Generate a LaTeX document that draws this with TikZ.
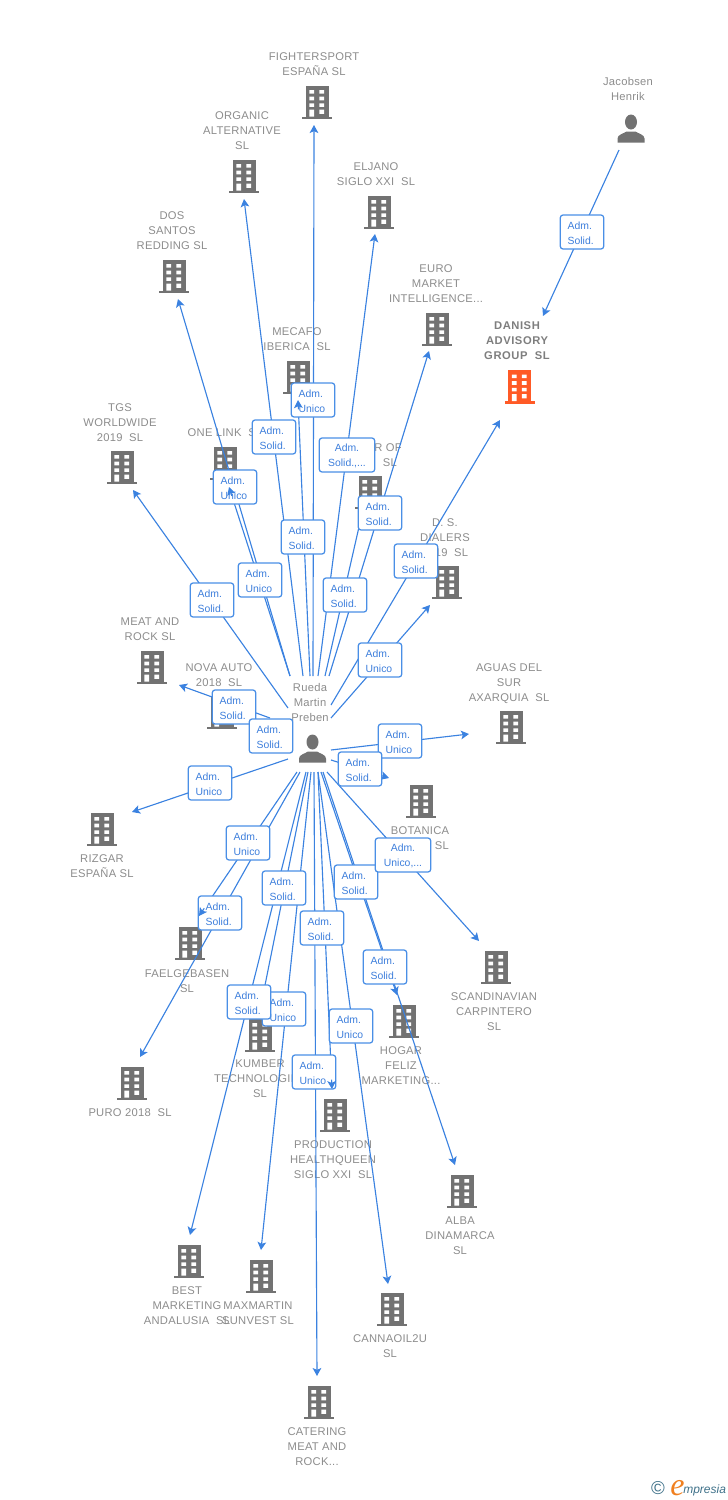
\documentclass[tikz,border=0pt]{standalone}
\usepackage{fontspec}
\setmainfont{Liberation Sans}
\newfontfamily\grfont[LetterSpace=2.4]{Liberation Sans}
\newfontfamily\grbfont[LetterSpace=5,BoldFont={Liberation Sans Bold}]{Liberation Sans}
\newfontfamily\bxfont{Liberation Sans}
\newfontfamily\logofont{Liberation Serif}
\usetikzlibrary{arrows.meta,calc}
\definecolor{linkblue}{HTML}{3B82E0}
\definecolor{boxblue}{HTML}{4A8FE6}
\definecolor{boxtext}{HTML}{3E7FDC}
\definecolor{gtxt}{HTML}{8C8C8C}
\definecolor{iconc}{HTML}{727272}
\definecolor{orangec}{HTML}{FF5A26}
\definecolor{logoteal}{HTML}{3F7189}
\definecolor{logoor}{HTML}{F08020}
\tikzset{
  gr/.style={font=\grfont\fontsize{8.4}{11.25}\selectfont,text=gtxt,align=center,inner sep=0pt,yshift=-0.75pt},
  grb/.style={font=\grbfont\bfseries\fontsize{8.4}{11.25}\selectfont,text=gtxt!90!black,align=center,inner sep=0pt,yshift=-0.75pt},
  conn/.style={draw=linkblue,line width=0.85pt,-{Stealth[length=6pt,width=6.5pt,inset=1.4pt]}},
  lbl/.style={draw=boxblue,line width=0.95pt,fill=white,rounded corners=2pt,
     minimum width=32.5pt,minimum height=25.5pt,inner sep=0pt,text width=21.5pt,align=left,
     text=boxtext,font=\bxfont\fontsize{7.8}{11.25}\selectfont,
     execute at begin node={\rule{0pt}{7pt}}},
  lblw/.style={lbl,minimum width=41.5pt,text width=36pt,align=center},
  bldg/.style={inner sep=0pt,outer sep=0pt,minimum width=24pt,minimum height=26.25pt,
    path picture={\begin{scope}[shift={(path picture bounding box.center)}]
      \fill[#1] (-11.5,-16.5) rectangle (11.5,14.5);
      \fill[#1] (-15,14.5) rectangle (15,17);
      \fill[white] (-7.6,-12) rectangle (-3,-8.4) (2.4,-12) rectangle (7,-8.4)
                   (-7.6,-5.3) rectangle (-3,-1.7) (2.4,-5.3) rectangle (7,-1.7)
                   (-7.6,1.3) rectangle (-3,4.9) (2.4,1.3) rectangle (7,4.9)
                   (-7.6,7.7) rectangle (-3,14.5) (2.4,7.7) rectangle (7,11.8);
    \end{scope}}},
  pers/.style={inner sep=0pt,outer sep=0pt,minimum width=21pt,minimum height=24pt,
    path picture={\begin{scope}[shift={(path picture bounding box.center)}]
      \fill[iconc] (0,-7) ellipse (6 and 7.5);
      \fill[iconc] (-13.5,13.5) -- (-13.5,9.5) .. controls (-13.5,5.5) and (-7,4.5) .. (-4.5,2.5)
         -- (4.5,2.5) .. controls (7,4.5) and (13.5,5.5) .. (13.5,9.5) -- (13.5,13.5) -- cycle;
    \end{scope}}}
}
% line from a named start coordinate to a named tip coordinate
\newcommand\linkto[5]{\coordinate (s#1) at (#2,#3); \coordinate (t#1) at (#4,#5); \draw[conn] (s#1) -- (t#1);}
\newcommand\overtip[1]{\draw[conn] ($(t#1)!7pt!(s#1)$) -- (t#1);}
\begin{document}
\begin{tikzpicture}[x=0.75pt,y=-0.75pt]
\useasboundingbox (0,0) rectangle (728,1500);
% buildings
\foreach \n/\x/\y in {bfight/317/102,borg/244/176,belj/379/212,bdos/174/276,beuro/437/329,bmec/298/377,
  btgs/122/467,bone/225/463,bown/370/492,bds/447/582,bmeat/152/667,bnova/222/712,bagu/511/727,bbot/421/801,
  briz/102/829,bfae/190/943,bkum/260/1035,bpur/132/1083,bhog/404/1021,bprod/335/1115,bsca/496/967,
  balb/462/1191,bbest/189/1261,bmax/261/1276,bcan/392/1309,bcat/319/1402}
  {\node[bldg=iconc] (\n) at (\x,\y) {};}
\node[bldg=orangec] (bdan) at (519.5,386.5) {};
\node[pers] (hub) at (312.5,749) {};
\node[pers] (pjac) at (631,129) {};
% names
\node[gr] (nfight) at (314,63.5) {FIGHTERSPORT\\ESPAÑA SL};
\node[gr] (norg) at (242,130) {ORGANIC\\ALTERNATIVE\\SL};
\node[gr] (nelj) at (376,173.5) {ELJANO\\SIGLO XXI~~SL};
\node[gr] (ndos) at (172,230) {DOS\\SANTOS\\REDDING SL};
\node[gr] (neuro) at (436,283) {EURO\\MARKET\\INTELLIGENCE...};
\node[grb] (ndan) at (517,340) {DANISH\\ADVISORY\\GROUP~~SL};
\node[gr] (njac) at (628,87.5) {Jacobsen\\Henrik};
\node[gr] (nmec) at (297,338.5) {MECAFO\\IBERICA~~SL};
\node[gr] (ntgs) at (120,422) {TGS\\WORLDWIDE\\2019~~SL};
\node[gr] (none) at (225,432) {ONE LINK~~SL};
\node[gr,anchor=east] (nown1) at (402,447) {R OF};
\node[gr,anchor=east] (nown2) at (397,462) {SL};
\node[gr] (nds) at (445,537) {D. S.\\DIALERS\\2019~~SL};
\node[gr] (nmeat) at (150,628.5) {MEAT AND\\ROCK SL};
\node[gr] (nnova) at (219,674.5) {NOVA AUTO\\2018~~SL};
\node[gr] (nagu) at (509,682.5) {AGUAS DEL\\SUR\\AXARQUIA~~SL};
\node[gr] (nbot) at (420,830) {BOTANICA};
\node[gr,anchor=east] (nbot2) at (449,845) {SL};
\node[gr] (nriz) at (102,865.5) {RIZGAR\\ESPAÑA SL};
\node[gr] (nfae) at (187,980.5) {FAELGEBASEN\\SL};
\node[gr] (nsca) at (494,1011) {SCANDINAVIAN\\CARPINTERO\\SL};
\node[gr] (nkum) at (260,1078) {KUMBER\\TECHNOLOGIES\\SL};
\node[gr] (nhog) at (401,1065) {HOGAR\\FELIZ\\MARKETING...};
\node[gr] (npur) at (130,1112) {PURO 2018~~SL};
\node[gr] (nprod) at (333,1159) {PRODUCTION\\HEALTHQUEEN\\SIGLO XXI~~SL};
\node[gr] (nalb) at (460,1235) {ALBA\\DINAMARCA\\SL};
\node[gr] (nbest) at (187,1305) {BEST\\MARKETING\\ANDALUSIA~~SL};
\node[gr] (nmax) at (258,1312.5) {MAXMARTIN\\SUNVEST SL};
\node[gr] (ncan) at (390,1345.5) {CANNAOIL2U\\SL};
\node[gr] (ncat) at (317,1446) {CATERING\\MEAT AND\\ROCK...};
\node[gr] (nrue) at (310,701) {Rueda\\Martin\\Preben};
% connectors
\linkto{jac}{619}{150}{543}{316}
\linkto{tgs}{288}{708}{133}{490}
\linkto{dos}{290}{676}{178}{299}
\linkto{one}{290}{676}{229}{487}
\linkto{org}{303}{676}{244}{199}
\linkto{mec}{310}{676}{298}{400}
\linkto{fight}{313}{676}{314}{125}
\linkto{elj}{318}{676}{375}{234}
\linkto{own}{325}{676}{364}{505}
\linkto{euro}{329}{676}{429}{351}
\linkto{dan}{331}{705}{500}{420}
\linkto{ds}{331}{718}{430}{605}
\linkto{meat}{270}{718}{179}{685}
\linkto{riz}{288}{759}{132}{812}
\linkto{agu}{331}{750}{469}{734}
\linkto{bot}{331}{760}{389}{778}
\linkto{sca}{327}{772}{479}{941}
\linkto{fae}{297}{772}{199}{916}
\linkto{pur}{300}{772}{140}{1057}
\linkto{best}{306}{772}{190}{1235}
\linkto{kum}{308}{772}{262}{1000}
\linkto{max}{311}{772}{261}{1250}
\linkto{cat}{314}{772}{317}{1376}
\linkto{prod}{318}{772}{332}{1089}
\linkto{can}{318}{772}{388}{1284}
\linkto{hog}{321}{772}{397}{995}
\linkto{alb}{323}{772}{455}{1165}
% relationship labels
\node[lbl] (ljac) at (582,232) {Adm.\\Solid.};
\node[lbl] (lfight) at (313,400) {Adm.\\Unico};
\node[lbl] (lorg) at (274,437) {Adm.\\Solid.};
\node[lblw] (lelj) at (347,455) {Adm.\\Solid.,...};
\node[lbl] (ldos) at (235,487) {Adm.\\Unico};
\node[lbl] (lown) at (345,595) {Adm.\\Solid.};
\node[lbl] (leuro) at (380,513) {Adm.\\Solid.};
\node[lbl] (lmec) at (303,537) {Adm.\\Solid.};
\node[lbl] (ldan) at (416,561) {Adm.\\Solid.};
\node[lbl] (lone) at (260,580) {Adm.\\Unico};
\node[lbl] (ltgs) at (212,600) {Adm.\\Solid.};
\node[lbl] (lds) at (380,660) {Adm.\\Unico};
\node[lbl] (lmeat) at (234,707) {Adm.\\Solid.};
\node[lbl] (lnova) at (271,736) {Adm.\\Solid.};
\node[lbl] (lriz) at (210,783) {Adm.\\Unico};
\node[lbl] (lagu) at (400,741) {Adm.\\Unico};
\node[lbl] (lbot) at (360,769) {Adm.\\Solid.};
\node[lbl] (lfae) at (248,843) {Adm.\\Unico};
\node[lbl] (lpur) at (220,913) {Adm.\\Solid.};
\node[lbl] (lkum) at (284,888) {Adm.\\Solid.};
\node[lbl] (lhog) at (356,882) {Adm.\\Solid.};
\node[lblw] (lsca) at (403,855) {Adm.\\Unico,...};
\node[lbl] (lprod) at (322,928) {Adm.\\Solid.};
\node[lbl] (lalb) at (385,967) {Adm.\\Solid.};
\node[lbl] (lmax) at (284,1009) {Adm.\\Unico};
\node[lbl] (lbest) at (249,1002) {Adm.\\Solid.};
\node[lbl] (lcan) at (351,1026) {Adm.\\Unico};
\node[lbl] (lcat) at (314,1072) {Adm.\\Unico};
% arrowheads that lie over the labels
\overtip{one}
\overtip{mec}
\overtip{fae}
\overtip{prod}
% logo
\node[inner sep=0pt,text=logoteal,font=\bxfont\fontsize{14}{16}\selectfont] (lgc) at (658,1488.5) {©};
\node[inner sep=0pt,anchor=base west,text=logoor,font=\logofont\itshape\fontsize{24}{26}\selectfont] (lge) at (670,1495) {e};
\node[inner sep=0pt,anchor=base west,text=logoteal,font=\bxfont\itshape\fontsize{9}{10}\selectfont] (lgm) at (683,1493) {mpresia};
\end{tikzpicture}
\end{document}
